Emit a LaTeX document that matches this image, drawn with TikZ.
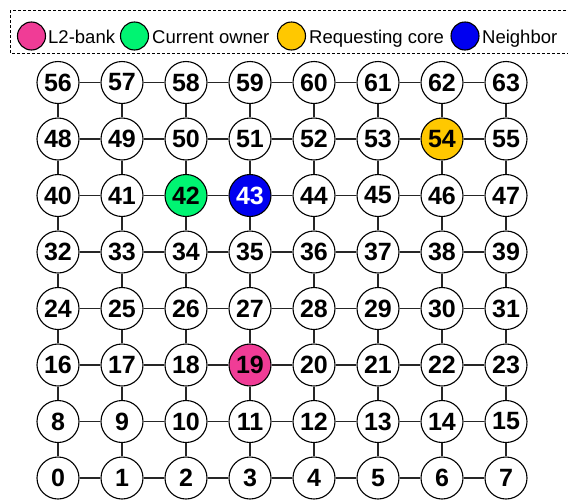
\documentclass[tikz,border=0pt]{standalone}
\usepackage{fontspec}
\setmainfont{Liberation Sans}
\definecolor{bankpink}{HTML}{F03C96}
\definecolor{ownergreen}{HTML}{00F472}
\definecolor{reqyellow}{HTML}{FFC800}
\definecolor{nbrblue}{HTML}{0000F0}
\tikzset{
  core/.style={circle, draw, line width=1.1pt, fill=white, minimum size=42pt,
    inner sep=0pt, font=\fontsize{25}{25}\selectfont\bfseries},
  link/.style={line width=1.5pt, draw=black!85},
  dot/.style={circle, draw, line width=1.1pt, minimum size=28pt, inner sep=0pt},
  legtext/.style={anchor=base west, inner sep=0pt, font=\fontsize{18.5}{18.5}\selectfont},
  % special cores
  c19/.style={fill=bankpink},
  c42/.style={fill=ownergreen},
  c43/.style={fill=nbrblue, text=white},
  c54/.style={fill=reqyellow}
}
\begin{document}
\begin{tikzpicture}[x=1pt, y=-1pt]
    \useasboundingbox (0,0) rectangle (568,501);
    \clip (0,0) rectangle (568,501);

    % legend
    \draw[dash pattern=on 3pt off 2pt, line width=1pt] (10,10) rectangle (580,53);
    \node[dot, fill=bankpink] (legbank) at (31.5,36) {};
    \node[legtext] (txtbank) at (48,43) {L2-bank};
    \node[dot, fill=ownergreen] (legowner) at (134.5,36) {};
    \node[legtext] (txtowner) at (152,43) {Current owner};
    \node[dot, fill=reqyellow] (legreq) at (291.5,36) {};
    \node[legtext] (txtreq) at (309,43) {Requesting core};
    \node[dot, fill=nbrblue] (legnbr) at (465,36) {};
    \node[legtext] (txtnbr) at (482,43) {Neighbor};

    % 8x8 mesh of cores
    \foreach \r in {0,...,7} {
      \foreach \c in {0,...,7} {
        \pgfmathtruncatemacro{\id}{8*\r+\c}
        \node[core, c\id/.try] (n\id) at ({58+64*\c},{478-56.5*\r}) {\id};
      }
    }

    % horizontal links
    \foreach \r in {0,...,7} {
      \foreach \c in {0,...,6} {
        \pgfmathtruncatemacro{\a}{8*\r+\c}
        \pgfmathtruncatemacro{\b}{\a+1}
        \draw[link] (n\a) -- (n\b);
      }
    }

    % vertical links
    \foreach \r in {0,...,6} {
      \foreach \c in {0,...,7} {
        \pgfmathtruncatemacro{\a}{8*\r+\c}
        \pgfmathtruncatemacro{\b}{\a+8}
        \draw[link] (n\a) -- (n\b);
      }
    }
\end{tikzpicture}
\end{document}
